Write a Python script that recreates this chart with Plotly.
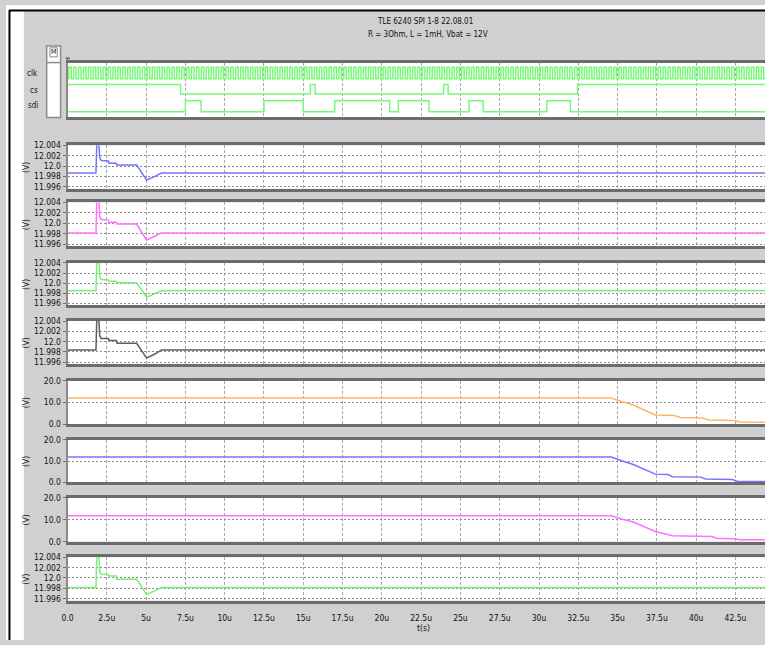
import plotly.graph_objects as go

W, H = 765, 645

# ---------------- time axis (microseconds) ----------------
t_end = 44.38
tick_vals = [0, 2.5, 5, 7.5, 10, 12.5, 15, 17.5, 20, 22.5, 25, 27.5, 30, 32.5, 35, 37.5, 40, 42.5]
tick_text = ["0.0", "2.5u", "5u", "7.5u", "10u", "12.5u", "15u", "17.5u", "20u", "22.5u",
             "25u", "27.5u", "30u", "32.5u", "35u", "37.5u", "40u", "42.5u"]

# ---------------- SPI bus ----------------
clk_period = 0.3125
clk_first_edge = 0.08
cs_init = 1
cs_edges = [7.2, 15.45, 15.76, 23.93, 24.22, 32.45]
sdi_init = 0
sdi_edges = [7.5, 8.5, 12.5, 15.0, 17.0, 20.5, 21.05, 23.0, 25.55, 26.45, 30.5, 32.0]

# ---------------- supply / output rails (V) ----------------
out1_t = [0, 1.81, 1.86, 2.0, 2.05, 2.15, 2.6, 2.65, 3.1, 3.15, 4.4, 5.03, 5.56, 5.98, t_end]
out1_v = [11.99865, 11.99865, 12.0042, 12.0040, 12.0016, 12.0011, 12.0010, 12.00056, 12.00056,
          12.0002, 12.0002, 11.9973, 11.9980, 11.99865, 11.99865]

out2_t = [0, 1.81, 1.86, 2.0, 2.05, 2.15, 2.6, 2.65, 3.1, 3.15, 4.4, 5.03, 5.56, 5.98, t_end]
out2_v = [11.99814, 11.99814, 12.0042, 12.0040, 12.0012, 12.0007, 12.0006, 12.0002, 12.0002,
          11.99986, 11.99986, 11.9968, 11.9975, 11.99814, 11.99814]

out3_t = [0, 1.81, 1.86, 2.0, 2.05, 2.15, 2.6, 2.65, 3.1, 3.15, 4.4, 5.03, 5.56, 5.98, t_end]
out3_v = [11.99846, 11.99846, 12.0042, 12.0040, 12.0012, 12.0007, 12.0006, 12.00037, 12.00037,
          12.00005, 12.00005, 11.9972, 11.9979, 11.99846, 11.99846]

out4_t = [0, 1.81, 1.86, 2.0, 2.05, 2.15, 2.6, 2.65, 3.1, 3.15, 4.4, 5.03, 5.56, 5.98, t_end]
out4_v = [11.9984, 11.9984, 12.0042, 12.0040, 12.0011, 12.00062, 12.0006, 12.0002, 12.0002,
          11.99967, 11.99967, 11.9968, 11.9976, 11.9984, 11.9984]

out8_t = [0, 1.81, 1.86, 2.0, 2.05, 2.15, 2.6, 2.65, 3.1, 3.15, 4.4, 5.03, 5.56, 5.98, t_end]
out8_v = [11.99814, 11.99814, 12.0042, 12.0040, 12.0012, 12.0007, 12.0006, 12.00037, 12.00037,
          11.99974, 11.99974, 11.9968, 11.9975, 11.99814, 11.99814]

# ---------------- load voltages (V) ----------------
load1_t = [0, 34.6, 35.3, 36.0, 37.4, 38.6, 39.0, 40.4, 40.8, 42.4, 42.8, t_end]
load1_v = [12.0, 12.0, 10.3, 8.8, 4.2, 3.9, 3.0, 2.8, 1.9, 1.6, 1.0, 0.9]

load2_t = [0, 34.6, 35.3, 36.0, 37.4, 38.2, 38.5, 40.3, 40.6, 42.3, 42.6, t_end]
load2_v = [11.9, 11.9, 10.0, 8.4, 3.9, 3.7, 2.7, 2.5, 1.6, 1.4, 0.6, 0.5]

load3_t = [0, 34.6, 35.3, 36.0, 37.4, 38.5, 41.0, 41.3, 42.5, 42.8, t_end]
load3_v = [11.8, 11.8, 10.2, 8.9, 4.6, 2.7, 2.3, 1.5, 1.2, 0.8, 0.8]

# ---------------- layout geometry (pixels) ----------------
x_left = 62
panels_px = [
    (58.5, 114.0),   # SPI bus
    (142.7, 186.7),
    (200.5, 245.0),
    (262.0, 305.0),
    (321.0, 365.0),
    (381.5, 425.7),
    (441.5, 485.0),
    (500.5, 545.0),
    (561.0, 605.0),
]

GRAY_BG = "#d0d0d0"
FRAME = "#6c6c6c"
FAMILY = "Liberation Sans Narrow, DejaVu Sans Condensed, Arial"
AX_FONT = dict(family=FAMILY, size=8.5, color="#111111")
TXT = dict(family=FAMILY, size=8, color="#111111")


def px(x):
    return x / W


def py(y):
    return 1 - y / H


def step_series(init, edges, t0=0.0, t1=t_end):
    xs, ys = [t0], [init]
    lvl = init
    for e in edges:
        lvl = 1 - lvl
        xs.append(e)
        ys.append(lvl)
    xs.append(t1)
    ys.append(lvl)
    return xs, ys


def clock_edges():
    edges = []
    t = clk_first_edge
    while t < t_end:
        edges.append(t)
        t += clk_period / 2
    return edges


fig = go.Figure()

# ---- SPI rows: (level array, baseline, swing) in axis units above the panel bottom
rows = [
    ("clk", step_series(0, clock_edges()), 39.0, 11.7),
    ("cs", step_series(cs_init, cs_edges), 23.5, 9.8),
    ("sdi", step_series(sdi_init, sdi_edges), 5.5, 11.2),
]
for name, (xs, ys), base, swing in rows:
    fig.add_trace(go.Scatter(
        x=xs, y=[base + v * swing for v in ys], mode="lines", line_shape="hv",
        line=dict(color="#78f878", width=1.5), xaxis="x", yaxis="y", hoverinfo="skip"))

analog = [
    (out1_t, out1_v, "#7474ff"),
    (out2_t, out2_v, "#ff70ff"),
    (out3_t, out3_v, "#78f078"),
    (out4_t, out4_v, "#5c5c5c"),
    (load1_t, load1_v, "#ffb46e"),
    (load2_t, load2_v, "#7474ff"),
    (load3_t, load3_v, "#ff70ff"),
    (out8_t, out8_v, "#78f078"),
]
for i, (ts, vs, col) in enumerate(analog, start=2):
    fig.add_trace(go.Scatter(x=ts, y=vs, mode="lines", line=dict(color=col, width=1.5),
                             xaxis=f"x{i}", yaxis=f"y{i}", hoverinfo="skip"))

small_ticks = [11.996, 11.998, 12.0, 12.002, 12.004]
small_text = ["11.996", "11.998", "12.0", "12.002", "12.004"]
big_ticks = [0, 10, 20]
big_text = ["0.0", "10.0", "20.0"]

layout = dict(
    width=W, height=H, margin=dict(l=0, r=0, t=0, b=0),
    paper_bgcolor=GRAY_BG, plot_bgcolor="white", showlegend=False,
)

for i, (top, bot) in enumerate(panels_px, start=1):
    xk = "xaxis" if i == 1 else f"xaxis{i}"
    yk = "yaxis" if i == 1 else f"yaxis{i}"
    last = i == len(panels_px)
    layout[xk] = dict(
        domain=[px(x_left), 1.0], range=[0, t_end], anchor="y" if i == 1 else f"y{i}",
        tickmode="array", tickvals=tick_vals, ticktext=tick_text,
        showticklabels=last, ticks="", tickfont=AX_FONT, ticklabelstandoff=7,
        showgrid=True, gridcolor="#a8a8a8", griddash="3px,2px", gridwidth=1,
        showline=True, mirror=True, linecolor=FRAME, linewidth=2.5,
        zeroline=False, fixedrange=True,
    )
    yd = dict(domain=[py(bot), py(top)], anchor="x" if i == 1 else f"x{i}",
              showline=True, mirror=False, linecolor="#8a8a8a", linewidth=2,
              zeroline=False, fixedrange=True, tickfont=AX_FONT)
    if i == 1:
        yd.update(range=[0, bot - top], showticklabels=False, showgrid=False, ticks="")
    elif i in (6, 7, 8):
        yd.update(range=[0, 20], tickmode="array", tickvals=big_ticks, ticktext=big_text,
                  ticks="outside", ticklen=3, tickcolor="#707070",
                  showgrid=True, gridcolor="#8c8c8c", griddash="2px,2px")
    else:
        yd.update(range=[11.9956, 12.004], tickmode="array", tickvals=small_ticks, ticktext=small_text,
                  ticks="outside", ticklen=3, tickcolor="#707070",
                  showgrid=True, gridcolor="#8c8c8c", griddash="2px,2px")
    layout[yk] = yd

fig.update_layout(**layout)

# ---- frame, M box and marker
shapes = [
    dict(type="rect", xref="paper", yref="paper", x0=0, x1=px(18), y0=0, y1=1,
         fillcolor="white", line_width=0, layer="below"),
    dict(type="rect", xref="paper", yref="paper", x0=0, x1=1, y0=py(5), y1=1,
         fillcolor="white", line_width=0, layer="below"),
    dict(type="line", xref="paper", yref="paper", x0=px(3), x1=1, y0=py(5.5), y1=py(5.5),
         line=dict(color="black", width=2)),
    dict(type="line", xref="paper", yref="paper", x0=px(3.5), x1=px(3.5), y0=py(5), y1=0,
         line=dict(color="black", width=2)),
    dict(type="rect", xref="paper", yref="paper", x0=px(41), x1=px(55), y0=py(114.3), y1=py(41.7),
         fillcolor="white", line=dict(color="#8a8a8a", width=1.5)),
    dict(type="line", xref="paper", yref="paper", x0=px(41), x1=px(55), y0=py(58.5), y1=py(58.5),
         line=dict(color="#8a8a8a", width=1.5)),
    dict(type="rect", xref="paper", yref="paper", x0=px(44.3), x1=px(51.7), y0=py(52.7), y1=py(43.5),
         fillcolor="white", line=dict(color="#8a8a8a", width=1)),
    dict(type="line", xref="paper", yref="paper", x0=px(62), x1=px(62), y0=py(58), y1=py(54),
         line=dict(color="#6c6c6c", width=1.5)),
    dict(type="line", xref="paper", yref="paper", x0=px(60), x1=px(64.5), y0=py(54), y1=py(54),
         line=dict(color="#6c6c6c", width=1.5)),
]
fig.update_layout(shapes=shapes)

ann = [
    dict(x=px(422), y=py(16.5), text="TLE 6240 SPI 1-8 22.08.01", font=TXT),
    dict(x=px(425), y=py(29.5), text="R = 3Ohm, L = 1mH, Vbat = 12V", font=TXT),
    dict(x=px(421), y=py(633), text="t(s)", font=AX_FONT),
    dict(x=px(48), y=py(48), text="M", font=dict(family=FAMILY, size=7, color="#111111")),
    dict(x=px(34), y=py(70), text="clk", xanchor="right", font=TXT),
    dict(x=px(34), y=py(86.5), text="cs", xanchor="right", font=TXT),
    dict(x=px(34), y=py(102.5), text="sdi", xanchor="right", font=TXT),
]
for top, bot in panels_px[1:]:
    ann.append(dict(x=px(20), y=py((top + bot) / 2), text="(V)", textangle=-90, font=AX_FONT))
for a in ann:
    a.setdefault("xref", "paper")
    a.setdefault("yref", "paper")
    a.setdefault("showarrow", False)
    a.setdefault("xanchor", "center")
    a.setdefault("yanchor", "middle")
fig.update_layout(annotations=ann)

fig.write_html("out.html")
